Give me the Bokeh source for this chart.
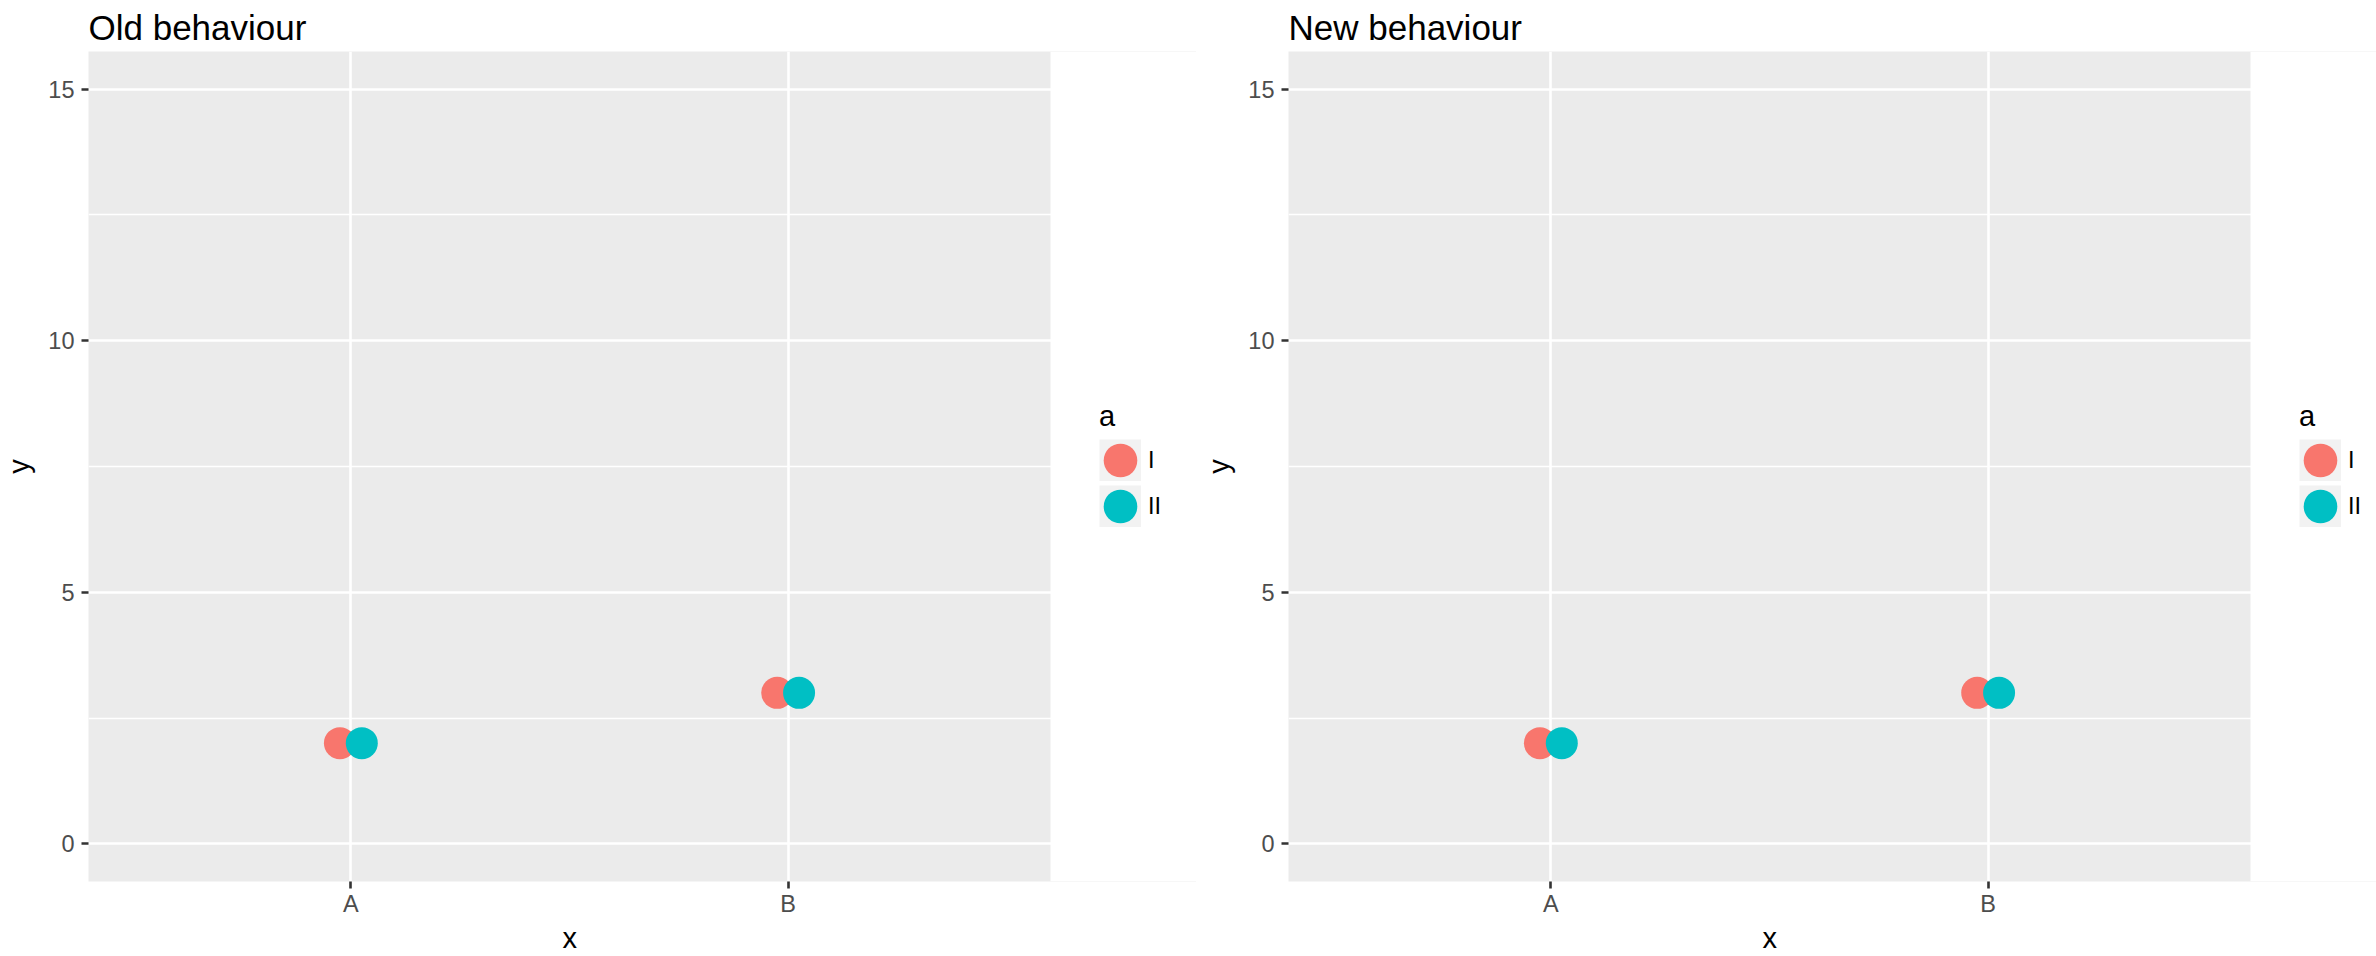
from bokeh.plotting import figure
from bokeh.models import (Range1d, FixedTicker, ColumnDataSource,
                          Legend, LegendItem, BoxAnnotation, Title)
from bokeh.layouts import row
from bokeh.transform import dodge
from bokeh.embed import file_html
from bokeh.resources import INLINE

# ---- data ----
categories = ["A", "B"]
series_names = ["I", "II"]
y_I = [2, 3]
y_II = [2, 3]
series_values = [y_I, y_II]
series_colors = ["#F8766D", "#00BFC4"]
dodge_offsets = [-0.025, 0.025]
y_ticks = [0, 5, 10, 15]
y_minor = [2.5, 7.5, 12.5]
titles = ["Old behaviour", "New behaviour"]
legend_title = "a"
x_title = "x"
y_title = "y"

FONT = "Liberation Sans"
H = 954
PANEL_W = 962            # width in px of the grey panel
KEY = 42                 # legend key size in px
cat_pos = list(range(1, len(categories) + 1))
X_LO, X_HI = 0.4, len(categories) + 0.6


def make_panel(title, width, border_left):
    frame_w = width - border_left
    x_end = X_LO + frame_w * (X_HI - X_LO) / PANEL_W
    p = figure(width=width, height=H,
               x_range=Range1d(X_LO, x_end),
               y_range=Range1d(-0.75, 15.75),
               output_backend="svg", toolbar_location=None,
               min_border_left=border_left, min_border_right=0,
               min_border_top=50, min_border_bottom=73,
               background_fill_color="#EBEBEB", border_fill_color="white",
               outline_line_color=None)
    p.title.text = title
    p.title.text_font = FONT
    p.title.text_font_size = "35px"
    p.title.text_font_style = "normal"
    p.title.text_color = "black"
    p.title.standoff = 10
    p.title.offset = 0

    p.yaxis.ticker = FixedTicker(ticks=y_ticks, minor_ticks=y_minor)
    p.xaxis.ticker = FixedTicker(ticks=cat_pos)
    p.xaxis.major_label_overrides = {pos: c for pos, c in zip(cat_pos, categories)}
    p.xaxis.bounds = (X_LO, X_HI)
    p.yaxis.axis_label = y_title
    for ax in (p.xaxis[0], p.yaxis[0]):
        ax.axis_line_color = None
        ax.major_tick_line_color = "#333333"
        ax.major_tick_line_width = 2.6
        ax.major_tick_out = 7
        ax.major_tick_in = 0
        ax.minor_tick_line_color = None
        ax.major_label_text_font = FONT
        ax.major_label_text_font_size = "23.5px"
        ax.major_label_text_color = "#4D4D4D"
        ax.axis_label_text_font = FONT
        ax.axis_label_text_font_size = "29px"
        ax.axis_label_text_font_style = "normal"
        ax.axis_label_text_color = "black"
    p.xaxis.major_label_standoff = 2
    p.yaxis.major_label_standoff = 7
    p.yaxis.axis_label_standoff = 10

    # x axis title, centred under the grey panel
    p.add_layout(Title(text=x_title, align="left", offset=PANEL_W / 2 - 7,
                       text_font=FONT, text_font_size="29px",
                       text_font_style="normal", text_color="black",
                       standoff=0), "below")

    p.ygrid.grid_line_color = "white"
    p.ygrid.grid_line_width = 2.6
    p.ygrid.minor_grid_line_color = "white"
    p.ygrid.minor_grid_line_width = 1.3
    p.xgrid.grid_line_color = "white"
    p.xgrid.grid_line_width = 2.6

    # white area right of the grey panel, where the legend sits
    p.add_layout(BoxAnnotation(left=X_HI, fill_color="white", fill_alpha=1,
                               line_color=None, level="underlay"))

    sources = [ColumnDataSource(dict(x=cat_pos, y=vals)) for vals in series_values]
    keys = []
    for src, off in zip(sources, dodge_offsets):
        # zero-length segment: invisible in the panel, draws the grey key box in the legend
        keys.append(p.segment(x0=dodge("x", off), y0="y", x1=dodge("x", off), y1="y",
                              source=src, line_color="#F2F2F2", line_width=KEY,
                              line_cap="butt"))
    pts = []
    for src, color, off in zip(sources, series_colors, dodge_offsets):
        pts.append(p.ellipse(x=dodge("x", off), y="y",
                             width=32, height=32, width_units="screen",
                             height_units="screen", source=src,
                             fill_color=color, line_color=None))

    items = [LegendItem(label=n, renderers=[k, r])
             for n, k, r in zip(series_names, keys, pts)]
    legend = Legend(items=items, title=legend_title,
                    location=(PANEL_W + 49, 354),
                    margin=0, padding=0, spacing=4,
                    glyph_width=KEY, glyph_height=KEY,
                    border_line_color=None, background_fill_alpha=0,
                    label_text_font=FONT, label_text_font_size="23.5px",
                    label_text_color="black", label_standoff=7,
                    title_text_font=FONT, title_text_font_size="29px",
                    title_text_font_style="normal", title_text_color="black",
                    title_standoff=6)
    p.add_layout(legend, "center")
    return p


p1 = make_panel(titles[0], 1196, 88)
p2 = make_panel(titles[1], 1180, 92)
layout = row(p1, p2)

open("out.html", "w").write(file_html(layout, INLINE))
